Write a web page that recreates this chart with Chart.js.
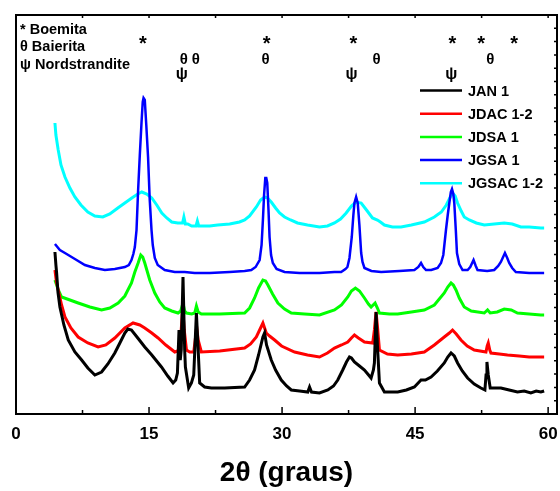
<!DOCTYPE html>
<html>
<head>
<meta charset="utf-8">
<script src="https://cdn.jsdelivr.net/npm/chart.js@4.4.1/dist/chart.umd.min.js"></script>
<style>
  body { margin: 0; background: #fff; }
</style>
</head>
<body>
<canvas id="xrdChart" width="560" height="491"></canvas>
<script>
// 2θ (degrees) vs. intensity (a.u., each pattern already offset)
const jan1 = [
  [4.39, 162], [4.5, 149], [4.58, 141], [4.73, 122], [4.95, 107], [5.4, 89], [5.89, 74], [6.64, 62],
  [7.4, 54], [8.1, 46], [8.89, 39], [9.65, 42], [10.36, 50], [11.14, 61], [11.71, 71], [12.27, 81],
  [12.61, 85], [13.02, 84], [13.73, 76], [14.52, 67], [15.31, 59], [16.4, 47], [17.11, 38], [17.71, 31],
  [18.01, 34], [18.2, 41], [18.38, 84], [18.52, 54], [18.63, 64], [18.83, 137], [19.02, 64], [19.1, 47],
  [19.47, 26], [19.78, 31], [20.04, 39], [20.21, 74], [20.34, 101], [20.49, 74], [20.71, 31], [21.27, 27],
  [22.03, 26], [23.53, 26], [25.78, 27], [26.34, 34], [26.9, 44], [27.35, 59], [27.84, 77], [28.03, 81],
  [28.25, 69], [28.78, 54], [29.27, 44], [29.91, 34], [30.51, 28], [31.04, 24], [31.97, 23], [32.9, 22],
  [33.1, 27], [33.32, 22], [34.22, 21], [35.16, 24], [35.8, 28], [36.28, 34], [36.84, 44], [37.26, 52],
  [37.6, 57], [37.82, 56], [38.16, 52], [38.73, 48], [39.29, 44], [40.04, 36], [40.3, 44], [40.41, 51],
  [40.6, 102], [40.75, 69], [40.98, 31], [41.54, 22], [42.33, 22], [43.04, 22], [44.02, 24], [44.92, 27],
  [45.67, 34], [46.16, 34], [46.8, 37], [47.51, 43], [48.29, 51], [48.68, 57], [49.05, 61], [49.42, 58],
  [49.79, 51], [50.32, 43], [50.92, 36], [51.67, 30], [52.42, 26], [52.87, 24], [53.0, 39], [53.1, 52],
  [53.25, 39], [53.47, 26], [54.67, 26], [55.61, 24], [56.54, 22], [57.3, 23], [58.05, 21], [58.65, 23],
  [59.18, 22], [59.55, 23]
];
const jdac12 = [
  [4.39, 144], [4.56, 132], [4.76, 124], [5.14, 109], [5.52, 97], [6.19, 86], [7.01, 77], [8.1, 71],
  [9.26, 67], [10.13, 69], [11.14, 76], [12.27, 86], [13.2, 91], [13.96, 89], [14.52, 86], [15.31, 81],
  [16.02, 76], [16.89, 69], [17.9, 62], [18.24, 63], [18.46, 67], [18.63, 84], [18.8, 106], [18.97, 84],
  [19.22, 64], [19.59, 62], [20.04, 62], [20.21, 74], [20.37, 87], [20.54, 74], [20.9, 62], [22.97, 63],
  [25.78, 66], [26.45, 70], [27.1, 77], [27.47, 84], [27.84, 91], [28.03, 86], [28.22, 81], [28.59, 78],
  [29.16, 74], [29.94, 68], [31.41, 62], [32.87, 59], [34.22, 57], [35.12, 61], [35.91, 66], [36.7, 69],
  [37.41, 72], [37.82, 76], [38.16, 79], [38.61, 76], [39.29, 72], [40.22, 71], [40.41, 84], [40.6, 102],
  [40.79, 84], [40.98, 64], [41.88, 60], [43.04, 59], [44.58, 60], [46.04, 62], [47.17, 69], [48.29, 77],
  [48.86, 81], [49.22, 84], [49.64, 80], [50.17, 74], [50.88, 68], [51.67, 64], [52.99, 62], [53.13, 68],
  [53.25, 71], [53.42, 64], [53.55, 61], [54.49, 60], [55.42, 59], [56.74, 58], [57.86, 57], [59.18, 57],
  [59.55, 57]
];
const jdsa1 = [
  [4.39, 134], [4.73, 125], [5.14, 117], [6.08, 114], [7.01, 111], [8.33, 107], [9.65, 104], [10.58, 106],
  [11.52, 111], [12.27, 118], [13.02, 131], [13.4, 142], [13.77, 151], [14.07, 159], [14.29, 157], [14.52, 151],
  [15.08, 134], [15.65, 121], [16.21, 112], [16.77, 106], [17.56, 103], [18.27, 101], [18.57, 103], [18.83, 111],
  [19.02, 103], [19.22, 101], [19.81, 100], [20.15, 101], [20.34, 108], [20.54, 102], [20.9, 100], [22.97, 100],
  [25.78, 101], [26.34, 106], [26.9, 116], [27.35, 126], [27.84, 134], [28.14, 133], [28.4, 129], [28.93, 120],
  [29.53, 111], [30.28, 105], [31.04, 101], [32.53, 100], [34.22, 99], [35.91, 104], [36.7, 109], [37.41, 117],
  [37.82, 123], [38.27, 126], [38.73, 123], [39.29, 116], [39.74, 110], [40.04, 107], [40.49, 111], [40.75, 106],
  [40.98, 101], [42.1, 100], [43.04, 100], [44.58, 102], [46.04, 104], [47.17, 109], [48.29, 121], [48.68, 127],
  [49.05, 131], [49.31, 129], [49.61, 124], [49.98, 116], [50.54, 107], [51.33, 103], [52.8, 101], [53.17, 104],
  [53.47, 101], [54.26, 102], [55.05, 105], [55.84, 104], [56.54, 101], [57.86, 100], [59.18, 99], [59.55, 99]
];
const jgsa1 = [
  [4.39, 170], [4.95, 164], [5.52, 161], [6.64, 155], [7.77, 149], [8.89, 146], [10.02, 144], [11.14, 145],
  [12.27, 147], [12.72, 149], [13.02, 154], [13.23, 160], [13.4, 167], [13.59, 184], [13.77, 224], [13.96, 259],
  [14.15, 291], [14.29, 312], [14.38, 316], [14.52, 314], [14.69, 289], [14.89, 257], [15.08, 214], [15.28, 184],
  [15.42, 169], [15.65, 156], [15.98, 149], [16.77, 144], [17.9, 142], [19.02, 142], [20.15, 141], [21.84, 141],
  [24.09, 142], [25.78, 143], [26.53, 144], [27.02, 147], [27.47, 154], [27.69, 169], [27.84, 194], [27.97, 219],
  [28.11, 236], [28.22, 236], [28.33, 231], [28.47, 204], [28.59, 177], [28.76, 159], [28.96, 151], [29.38, 145],
  [30.28, 142], [31.97, 141], [34.22, 141], [35.91, 142], [36.66, 142], [37.15, 145], [37.37, 147], [37.6, 156],
  [37.86, 177], [38.04, 199], [38.16, 211], [38.35, 217], [38.53, 211], [38.72, 189], [38.92, 161], [39.07, 152],
  [39.29, 146], [40.07, 143], [41.17, 142], [43.23, 143], [44.92, 144], [45.37, 147], [45.67, 151], [45.92, 147],
  [46.23, 144], [46.82, 144], [47.54, 146], [47.92, 151], [48.18, 159], [48.48, 184], [48.68, 199], [48.86, 211],
  [49.03, 222], [49.16, 225], [49.31, 220], [49.42, 211], [49.59, 184], [49.72, 161], [49.98, 150], [50.35, 144],
  [50.92, 144], [51.22, 147], [51.59, 154], [51.84, 148], [52.04, 144], [53.13, 143], [53.92, 144], [54.37, 148],
  [54.67, 152], [55.13, 161], [55.39, 156], [55.61, 151], [55.95, 146], [56.36, 142], [57.86, 141], [59.18, 141],
  [59.55, 141]
];
const jgsac12 = [
  [4.39, 291], [4.5, 279], [4.76, 264], [5.07, 249], [5.52, 237], [6.08, 226], [6.64, 217], [7.32, 209],
  [8.1, 202], [8.89, 198], [9.79, 197], [10.58, 200], [11.48, 206], [12.27, 211], [13.06, 216], [13.73, 220],
  [14.18, 222], [14.75, 220], [15.31, 216], [15.87, 209], [16.44, 201], [17.0, 196], [17.56, 192], [18.24, 191],
  [18.78, 191], [18.93, 197], [19.1, 190], [19.36, 190], [19.81, 188], [20.3, 188], [20.45, 193], [20.6, 188],
  [21.84, 188], [22.74, 189], [24.09, 190], [25.2, 192], [25.78, 194], [26.34, 198], [27.1, 207], [27.58, 214],
  [28.03, 217], [28.36, 216], [28.78, 212], [29.27, 206], [29.72, 201], [30.28, 197], [30.96, 194], [31.74, 191],
  [32.87, 189], [34.22, 187], [35.12, 188], [35.91, 191], [36.59, 195], [37.23, 201], [37.82, 208], [38.35, 212],
  [38.92, 211], [39.52, 204], [40.19, 196], [40.75, 194], [41.09, 192], [41.54, 189], [42.44, 187], [43.42, 187],
  [44.58, 189], [46.04, 192], [47.17, 197], [47.96, 202], [48.52, 209], [48.97, 217], [49.22, 221], [49.52, 218],
  [49.79, 211], [50.2, 203], [50.54, 197], [51.11, 194], [51.9, 191], [52.8, 189], [53.92, 190], [55.05, 191],
  [55.95, 190], [56.93, 187], [57.86, 187], [59.18, 186], [59.55, 186]
];

const seriesLabels = ['JAN 1', 'JDAC 1-2', 'JDSA 1', 'JGSA 1', 'JGSAC 1-2'];
const seriesData = [jan1, jdac12, jdsa1, jgsa1, jgsac12];
const seriesColors = ['#000000', '#ff0000', '#00ff00', '#0000ff', '#00ffff'];
const xTicks = [0, 15, 30, 45, 60];

// reflection positions (2θ) marked above the patterns
const boemitaPeaks = [14.3, 28.26, 38.05, 49.2, 52.46, 56.17];
const baieritaPeaks = [18.91, 20.26, 28.14, 40.64, 53.47];
const nordstranditePeaks = [18.69, 37.82, 49.08];

const FONT = '"Liberation Sans", Arial, sans-serif';

const framePlugin = {
  id: 'frame',
  afterDatasetsDraw(chart) {
    const { ctx, chartArea: a, scales: { x, y } } = chart;
    ctx.save();
    ctx.strokeStyle = '#000';
    ctx.lineWidth = 2;
    ctx.strokeRect(a.left, a.top, a.right - a.left, a.bottom - a.top);

    ctx.lineWidth = 1.5;
    ctx.beginPath();
    for (let v = 0; v <= 60; v += 7.5) {
      const px = x.getPixelForValue(v);
      ctx.moveTo(px, a.bottom);
      ctx.lineTo(px, a.bottom - (v % 15 === 0 ? 7 : 4));
      ctx.moveTo(px, a.top);
      ctx.lineTo(px, a.top + 3);
    }
    for (let v = 0; v <= 399; v += 399 / 30) {
      const py = y.getPixelForValue(v);
      ctx.moveTo(a.right, py);
      ctx.lineTo(a.right - 3, py);
    }
    ctx.stroke();

    // phase key, top left
    ctx.fillStyle = '#000';
    ctx.textAlign = 'left';
    ctx.textBaseline = 'middle';
    ctx.font = 'bold 14.5px ' + FONT;
    ctx.fillText('* Boemita', 20, 30);
    ctx.fillText('θ Baierita', 20, 47);
    ctx.fillText('ψ Nordstrandite', 20, 65);

    // phase symbols over the reflections
    ctx.textAlign = 'center';
    ctx.font = 'bold 20px ' + FONT;
    boemitaPeaks.forEach(v => ctx.fillText('*', x.getPixelForValue(v), y.getPixelForValue(370)));
    ctx.font = 'bold 15px ' + FONT;
    baieritaPeaks.forEach(v => ctx.fillText('θ', x.getPixelForValue(v), y.getPixelForValue(354)));
    ctx.font = 'bold 16px ' + FONT;
    nordstranditePeaks.forEach(v => ctx.fillText('ψ', x.getPixelForValue(v), y.getPixelForValue(339)));

    // legend
    ctx.textAlign = 'left';
    ctx.font = 'bold 14.5px ' + FONT;
    chart.data.datasets.forEach((ds, i) => {
      const ly = 90.5 + i * 23.2;
      ctx.strokeStyle = ds.borderColor;
      ctx.lineWidth = 2.5;
      ctx.beginPath();
      ctx.moveTo(420, ly);
      ctx.lineTo(462, ly);
      ctx.stroke();
      ctx.fillText(ds.label, 468, ly + 1);
    });
    ctx.restore();
  }
};

const ctx = document.getElementById('xrdChart').getContext('2d');
new Chart(ctx, {
  type: 'line',
  data: {
    datasets: seriesData.map((pts, i) => ({
      label: seriesLabels[i],
      data: pts.map(p => ({ x: p[0], y: p[1] })),
      borderColor: seriesColors[i],
      borderWidth: i === 3 ? 2.5 : 3,
      pointRadius: 0,
      tension: 0,
      fill: false
    }))
  },
  options: {
    responsive: false,
    animation: false,
    devicePixelRatio: 1,
    layout: { autoPadding: false, padding: { left: 16, right: 3, top: 15, bottom: 0 } },
    plugins: { legend: { display: false }, tooltip: { enabled: false } },
    scales: {
      x: {
        type: 'linear',
        min: 0,
        max: 61,
        afterBuildTicks: s => { s.ticks = xTicks.map(v => ({ value: v })); },
        afterFit: s => {
          s.height = 77;
          s.paddingLeft = 0;
          s.paddingRight = 0;
        },
        ticks: {
          color: '#000',
          font: { family: FONT, size: 17, weight: 'bold' },
          padding: 10,
          maxRotation: 0,
          autoSkip: false
        },
        grid: { display: false, drawTicks: false },
        border: { display: false },
        title: {
          display: true,
          text: '2θ (graus)',
          color: '#000',
          font: { family: FONT, size: 28, weight: 'bold' },
          padding: { top: 10, bottom: 1 }
        }
      },
      y: { min: 0, max: 399, display: false }
    }
  },
  plugins: [framePlugin]
});
</script>
</body>
</html>
